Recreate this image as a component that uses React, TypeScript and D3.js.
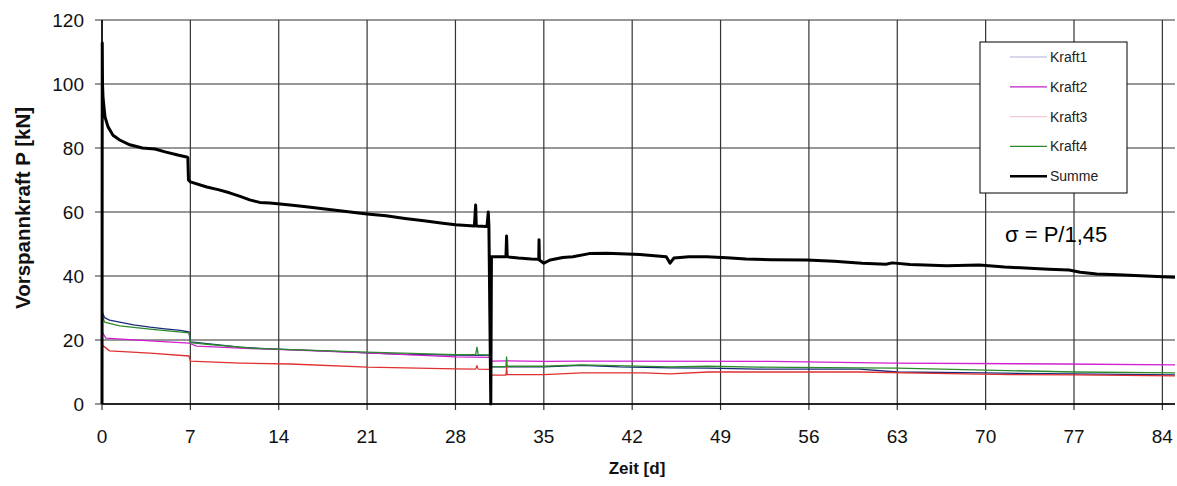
import React from "react";
import * as d3 from "d3";

const xTicks = [0, 7, 14, 21, 28, 35, 42, 49, 56, 63, 70, 77, 84];
const yTicks = [0, 20, 40, 60, 80, 100, 120];

const summeT = [0, 0.02, 0.04, 0.08, 0.15, 0.24, 0.48, 0.87, 1.4, 2.2, 3.2, 4.2, 5.0, 6.0, 6.7, 6.8, 6.85, 7.0, 8.3, 9.2, 10.1, 11, 11.7, 12.5, 13.3, 14.9, 16, 17.5, 19, 21, 22.5, 24, 25.5, 27, 28, 29.5, 29.6, 29.65, 30.5, 30.6, 30.65, 30.8, 30.85, 31.5, 32, 32.05, 32.1, 33, 34, 34.6, 34.62, 34.65, 35, 35.5, 36.5, 37.3, 38.6, 40, 42.6, 44.7, 45, 45.3, 46.5, 47.9, 49.5, 51, 53, 55.8, 58, 60.2, 62.1, 62.6, 64, 66.9, 69.5, 71.5, 73.5, 75, 76.6, 77.5, 78.8, 80.5, 82.7, 84, 85];
const summeV = [0, 112.8, 100, 96, 93, 89.7, 86.6, 84, 82.5, 81, 80, 79.7, 78.8, 77.8, 77.2, 77, 70, 69.4, 67.8, 67, 66, 64.8, 63.8, 63, 62.8, 62.2, 61.7, 61, 60.3, 59.4, 58.8, 58, 57.3, 56.5, 56, 55.6, 62.2, 55.6, 55.5, 60, 55.5, 0, 46, 46, 46, 52.5, 46, 45.6, 45.3, 45.2, 51.3, 45, 44, 45, 45.8, 46, 47, 47.1, 46.7, 46, 44, 45.6, 46, 46, 45.7, 45.3, 45.1, 45, 44.6, 44, 43.7, 44.1, 43.6, 43.2, 43.4, 42.8, 42.4, 42.1, 41.9, 41.2, 40.6, 40.4, 40, 39.8, 39.6];

const kraft1T = [0, 0.02, 0.2, 0.6, 1.4, 2.5, 3.8, 5, 6.2, 6.9, 7.0, 8.5, 10.9, 12.5, 14.9, 18, 21, 24, 28, 30.7, 30.8, 30.85, 32, 35, 38, 41, 45, 48, 52, 60, 63, 70, 77, 85];
const kraft1V = [0, 28.7, 27, 26.2, 25.6, 24.7, 24, 23.5, 23, 22.5, 19.4, 18.8, 17.8, 17.4, 17, 16.5, 16, 15.5, 15.3, 15.2, 3.5, 11.6, 11.6, 11.6, 12.1, 11.6, 11.3, 11.2, 10.9, 10.9, 10, 9.7, 9.4, 9.1];

const kraft2T = [0, 0.02, 0.3, 3.8, 6.9, 7.5, 12.5, 14.9, 21, 28, 30.7, 30.85, 32, 35, 38, 53, 62.6, 76, 85];
const kraft2V = [0, 22.5, 20.6, 19.7, 19, 18.1, 17.2, 16.9, 16, 14.7, 14.6, 13.4, 13.5, 13.3, 13.4, 13.3, 12.8, 12.5, 12.2];

const kraft3T = [0, 0.02, 0.6, 3.8, 6.9, 7.0, 10.9, 14.9, 21, 28, 29.6, 29.7, 29.8, 30.7, 30.85, 32, 32.05, 32.1, 35, 38, 43, 45, 48, 60, 66, 72, 77, 85];
const kraft3V = [0, 18.4, 16.6, 15.9, 15, 13.4, 12.8, 12.5, 11.5, 11, 10.9, 12, 10.9, 10.8, 9, 9, 11.5, 9.2, 9.2, 9.7, 9.7, 9.4, 10, 10, 9.6, 9.2, 9.1, 8.8];

const kraft4T = [0, 0.02, 0.2, 1.4, 3.8, 6.9, 7.0, 8.5, 12, 14.9, 21, 28, 29.6, 29.7, 29.8, 30.7, 30.8, 30.85, 32, 32.05, 32.1, 35, 38, 45, 48, 52, 60, 63, 70, 77, 85];
const kraft4V = [0, 27.8, 25.6, 24.4, 23.4, 22.2, 19.2, 18.6, 17.4, 17, 16.2, 15.4, 15.4, 17.8, 15.4, 15.3, 26, 11.7, 11.7, 14.7, 11.8, 11.8, 12.2, 11.6, 11.8, 11.5, 11.3, 11.2, 10.6, 10, 9.7];

const seriesNames = ["Kraft1", "Kraft2", "Kraft3", "Kraft4", "Summe"];
const seriesT = [kraft1T, kraft2T, kraft3T, kraft4T, summeT];
const seriesV = [kraft1V, kraft2V, kraft3V, kraft4V, summeV];
const lineColors = ["#1c2a7c", "#d020d0", "#e03030", "#2a8a2a", "#000000"];
const legendColors = ["#c8c8e6", "#c020c0", "#f4c8d0", "#2a8a2a", "#000000"];
const lineWidths = [1.3, 1.3, 1.3, 1.3, 3];

const W = 1177, H = 486;
const left = 102, right = 1175, top = 20, bottom = 404;

export default function App() {
  const x = d3.scaleLinear().domain([0, 85]).range([left, right]);
  const y = d3.scaleLinear().domain([0, 120]).range([bottom, top]);
  const font = "'Liberation Sans', Arial, sans-serif";
  const grid = "#333333";

  return (
    <svg width={W} height={H} style={{ position: "absolute", left: 0, top: 0, background: "#fff" }} fontFamily={font}>
      <rect x={0} y={0} width={W} height={H} fill="#fff" />
      {yTicks.map((t) => (
        <g key={"y" + t}>
          <line x1={left - 7} x2={right} y1={y(t)} y2={y(t)} stroke={grid} strokeWidth={1.2} />
          <text x={84} y={y(t)} dy="0.36em" textAnchor="end" fontSize={19} fill="#111">{t}</text>
        </g>
      ))}
      {xTicks.map((t) => (
        <g key={"x" + t}>
          <line x1={x(t)} x2={x(t)} y1={top} y2={bottom + 6} stroke={grid} strokeWidth={1.2} />
          <text x={x(t)} y={443} textAnchor="middle" fontSize={19} fill="#111">{t}</text>
        </g>
      ))}
      <line x1={left} x2={left} y1={top} y2={bottom} stroke="#000" strokeWidth={1.5} />
      <line x1={left} x2={right} y1={bottom} y2={bottom} stroke="#000" strokeWidth={1.5} />
      {[0, 1, 2, 3, 4].map((i) => {
        const pts: [number, number][] = seriesT[i].map((t, j) => [t, seriesV[i][j]]);
        const path = d3.line<[number, number]>().x((d) => x(d[0])).y((d) => y(d[1]))(pts) || "";
        return <path key={seriesNames[i]} d={path} fill="none" stroke={lineColors[i]} strokeWidth={lineWidths[i]} strokeLinejoin="round" />;
      })}
      <text x={1005} y={242} fontSize={22} fill="#000">σ = P/1,45</text>
      <g>
        <rect x={980} y={42} width={147} height={151} fill="#fff" stroke="#000" strokeWidth={1} />
        {seriesNames.map((n, i) => {
          const ly = 57 + i * 29.8;
          return (
            <g key={"l" + n}>
              <line x1={1010} x2={1047} y1={ly} y2={ly} stroke={legendColors[i]} strokeWidth={i === 4 ? 2.5 : 1.3} />
              <text x={1050} y={ly} dy="0.36em" fontSize={14} fill="#222">{n}</text>
            </g>
          );
        })}
      </g>
      <text x={637} y={474} textAnchor="middle" fontSize={17} fontWeight="bold" fill="#111">Zeit [d]</text>
      <text transform={`translate(30,208) rotate(-90)`} textAnchor="middle" fontSize={20.5} fontWeight="bold" fill="#111">Vorspannkraft P [kN]</text>
    </svg>
  );
}
